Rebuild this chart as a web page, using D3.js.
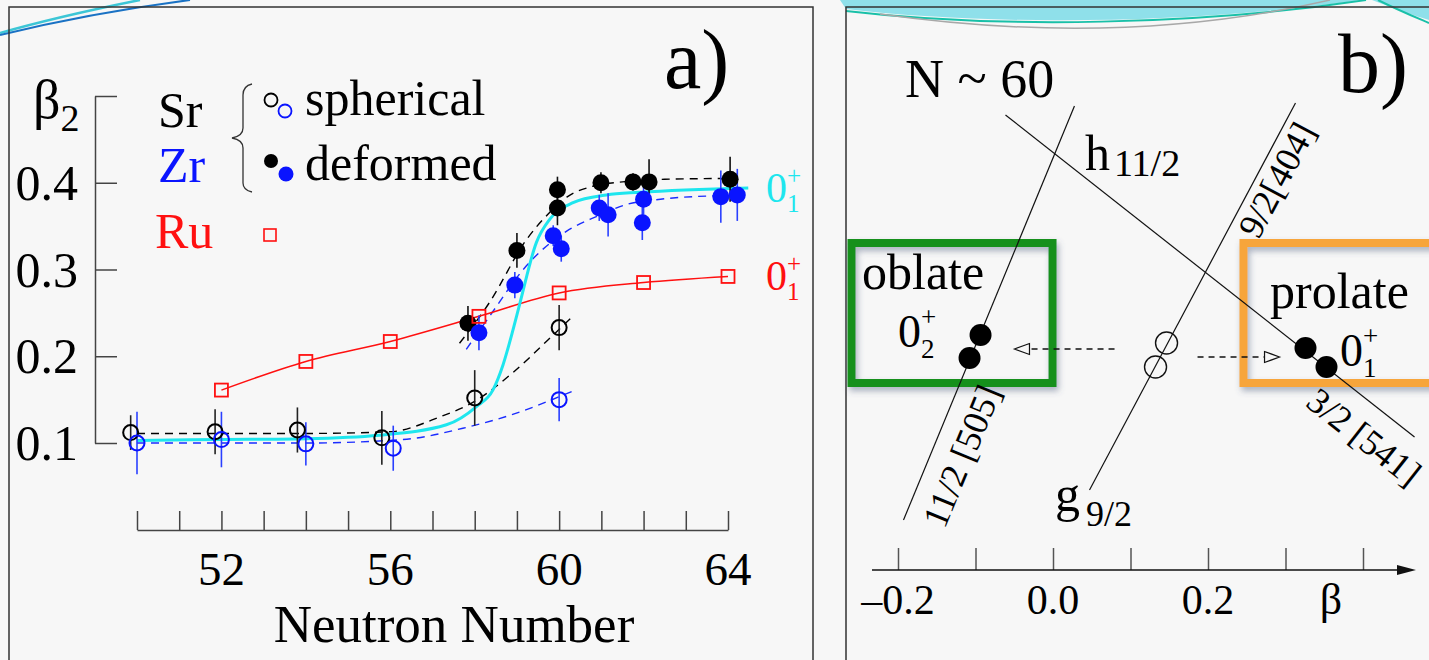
<!DOCTYPE html>
<html><head><meta charset="utf-8">
<script src="https://cdn.jsdelivr.net/npm/d3@7"></script>
<style>body{margin:0;background:#f7f7f7}svg{display:block}</style>
</head><body>
<svg id="c" width="1429" height="660"></svg>
<script>
// ---------------- DATA (panel a) ----------------
const xTicksA = [50,51,52,53,54,55,56,57,58,59,60,61,62,63,64];
const xLabelsA = [52,56,60,64];
const yTicksA = [0.1,0.2,0.3,0.4,0.5];
const yLabelsA = [0.1,0.2,0.3,0.4];
// [N, beta2, error]
const srSpherical = [[49.85,0.112,0.020],[51.85,0.113,0.026],[53.8,0.115,0.026],[55.8,0.106,0.031],[58.0,0.152,0.032],[60.0,0.233,0.026]];
const zrSpherical = [[50.0,0.100,0.036],[52.0,0.104,0.032],[54.0,0.099,0.025],[56.07,0.094,0.026],[60.0,0.150,0.025]];
const srDeformed = [[57.84,0.238,0.020],[59.0,0.322,0.020],[59.96,0.392,0.015],[59.96,0.371,0.020],[60.99,0.400,0.012],[61.75,0.401,0.010],[62.13,0.401,0.026],[64.05,0.404,0.026]];
const zrDeformed = [[58.1,0.227,0.020],[58.95,0.282,0.015],[59.86,0.339,0.012],[60.05,0.324,0.015],[60.95,0.371,0.015],[61.16,0.363,0.025],[61.97,0.354,0.020],[62.0,0.381,0.018],[63.83,0.384,0.030],[64.22,0.386,0.030]];
const ruValues = [[52,0.161],[54,0.194],[56,0.217],[58.1,0.246],[60,0.273],[62,0.285],[64,0.292]];
// guide curves
const fitGround = [[50,0.103],[52,0.104],[54,0.105],[55.74,0.109],[57.33,0.121],[58.04,0.142],[58.43,0.161],[58.67,0.190],[58.91,0.231],[59.07,0.261],[59.46,0.331],[59.78,0.358],[60.33,0.377],[61.12,0.386],[61.91,0.389],[64.48,0.394]];
const srSphCurve = [[50,0.111],[52,0.111],[54,0.111],[56,0.113],[57.17,0.130],[58,0.148],[58.9,0.181],[59.74,0.219],[60.3,0.245]];
const zrSphCurve = [[50,0.100],[54,0.100],[56.3,0.104],[57.72,0.117],[58.9,0.133],[60.33,0.160]];
const srDefCurve = [[57.64,0.215],[58.35,0.262],[59.22,0.334],[59.78,0.366],[60.2,0.384],[60.8,0.396],[61.5,0.401],[62.5,0.404],[64.05,0.405]];
const zrDefCurve = [[57.8,0.208],[58.35,0.246],[59.22,0.304],[60.17,0.344],[60.88,0.361],[61.6,0.375],[62.4,0.381],[63.7,0.385]];

// ---------------- DATA (panel b) ----------------
const betaTicks = [-0.2,-0.1,0,0.1,0.2,0.3,0.4];
const betaLabels = [[-0.2,"\u20130.2"],[0,"0.0"],[0.2,"0.2"]];
// orbitals: [beta0, E0, beta1, E1]
const orbitals = [
  [-0.1929, 8.0, 0.0277, 90.8],   // 11/2[505] (h11/2 oblate)
  [-0.0613, 89.0, 0.4665, 24.6],  // 3/2[541]
  [0.0471, 14.0, 0.3129, 91.4]    // 9/2[404] (g9/2)
];
const oblateDots = [[-0.0935,45.0],[-0.1077,40.4]];
const sphericalDots = [[0.1465,43.4],[0.1323,38.6]];
const prolateDots = [[0.3258,42.4],[0.3529,38.6]];
const arrowLeft = [0.0794,-0.0497,42.2];
const arrowRight = [0.1865,0.2923,40.6];
const oblateBox = [-0.26,63.4,-0.0006,35.4];
const prolateBox = [0.2458,63.4,0.5052,35.4];

// ---------------- DRAW ----------------
const svg = d3.select('#c');
const FONT = "'Liberation Serif','DejaVu Serif',serif";
const defs = svg.append('defs');
const f = defs.append('filter').attr('id','sh').attr('x','-20%').attr('y','-20%').attr('width','140%').attr('height','140%');
f.append('feDropShadow').attr('dx',2).attr('dy',4).attr('stdDeviation',3).attr('flood-color','#4a5a7a').attr('flood-opacity',0.45);

svg.append('rect').attr('width',1429).attr('height',660).attr('fill','#f7f7f7');

function T(x,y,s,size,opt={}){
  const t = svg.append('text').attr('x',x).attr('y',y).text(s)
    .attr('font-family',FONT).attr('font-size',size)
    .attr('fill',opt.fill||'#000').attr('text-anchor',opt.anchor||'start');
  if(opt.rot!==undefined){ t.attr('x',0).attr('y',0).attr('dominant-baseline','central').attr('transform',`translate(${x},${y}) rotate(${opt.rot})`);}
  return t;
}
// base with stacked superscript / subscript in one text element
function SS(x,y,base,sub,sup,size,small,supDy,subDy,fill){
  const t = svg.append('text').attr('x',x).attr('y',y)
    .attr('font-family',FONT).attr('font-size',size).attr('fill',fill||'#000');
  t.append('tspan').text(base);
  t.append('tspan').attr('font-size',small).attr('dy',supDy).text(sup);
  t.append('tspan').attr('font-size',small).attr('dx',-0.564*small).attr('dy',subDy-supDy).text(sub);
  return t;
}
// base with subscript (one text element)
function SB(x,y,base,sub,size,small,dx,dy){
  const t = svg.append('text').attr('x',x).attr('y',y)
    .attr('font-family',FONT).attr('font-size',size).attr('fill','#000');
  t.append('tspan').text(base);
  t.append('tspan').attr('font-size',small).attr('dx',dx).attr('dy',dy).text(sub);
  return t;
}

// decorations
svg.append('path').attr('d','M840,0 L846,9 C1000,27 1200,23 1362,0 Z').attr('fill','#8fe0ea');
svg.append('path').attr('d','M846,11 C1000,29 1200,25 1366,0').attr('fill','none').attr('stroke','#19c0a8').attr('stroke-width',2);
svg.append('path').attr('d','M880,14 C1050,38 1200,30 1330,0').attr('fill','none').attr('stroke','#a8a8a8').attr('stroke-width',1.5);
svg.append('path').attr('d','M1372,0 C1395,9 1415,16 1429,20 L1429,0 Z').attr('fill','#8fe0ea');
svg.append('path').attr('d','M1378,0 C1398,10 1415,17 1429,23').attr('fill','none').attr('stroke','#19c0a8').attr('stroke-width',2);
svg.append('path').attr('d','M0,33 Q60,16 140,0').attr('fill','none').attr('stroke','#3cc6d6').attr('stroke-width',2.5);
svg.append('path').attr('d','M0,35 Q90,13 190,0').attr('fill','none').attr('stroke','#1a72c4').attr('stroke-width',2);

// frames
svg.append('rect').attr('x',9).attr('y',7).attr('width',804).attr('height',700).attr('fill','none').attr('stroke','#333').attr('stroke-width',1.5);
svg.append('rect').attr('x',846).attr('y',7).attr('width',640).attr('height',700).attr('fill','none').attr('stroke','#333').attr('stroke-width',1.5);

// ===== Panel a =====
const xA = d3.scaleLinear().domain([50,64]).range([137,728]);
const yA = d3.scaleLinear().domain([0.1,0.5]).range([443,96]);

const gx = svg.append('g').attr('transform','translate(0,530)')
  .call(d3.axisTop(xA).tickValues(xTicksA).tickSizeInner(19).tickSizeOuter(0).tickFormat(''));
gx.selectAll('path,line').attr('stroke','#444').attr('stroke-width',1.5);
xLabelsA.forEach(v=>T(xA(v),585,String(v),47,{anchor:'middle'}));
T(454,642,'Neutron Number',53,{anchor:'middle'});

const gy = svg.append('g').attr('transform','translate(95,0)')
  .call(d3.axisRight(yA).tickValues(yTicksA).tickSizeInner(22).tickSizeOuter(0).tickFormat(''));
gy.selectAll('path,line').attr('stroke','#444').attr('stroke-width',1.5);
yLabelsA.forEach(v=>T(78,yA(v)+17,v.toFixed(1),50,{anchor:'end'}));
SB(33,118,'\u03b2','2',54,38,0,13);

T(664,88,'a)',84);

// curves
const line = d3.line().x(d=>xA(d[0])).y(d=>yA(d[1])).curve(d3.curveMonotoneX);
function curve(data,color,width,dash){
  svg.append('path').attr('d',line(data)).attr('fill','none').attr('stroke',color)
    .attr('stroke-width',width).attr('stroke-dasharray',dash||null);
}
curve(srSphCurve,'#000',1.4,'8,6');
curve(zrSphCurve,'#1a2cff',1.4,'8,6');
curve(srDefCurve,'#000',1.4,'8,6');
curve(zrDefCurve,'#1a2cff',1.4,'8,6');
curve(ruValues,'#ff1010',1.5);
curve(fitGround,'#1ee6ee',3);

// error bars
function errs(data,color){
  svg.append('g').selectAll('line').data(data).join('line')
    .attr('x1',d=>xA(d[0])).attr('x2',d=>xA(d[0]))
    .attr('y1',d=>yA(d[1]-d[2])).attr('y2',d=>yA(d[1]+d[2]))
    .attr('stroke',color).attr('stroke-width',1.6);
}
errs(srSpherical,'#222'); errs(zrSpherical,'#2a40ff'); errs(srDeformed,'#111'); errs(zrDeformed,'#2a40ff');

// markers
function circles(data,color,filled,r){
  svg.append('g').selectAll('circle').data(data).join('circle')
    .attr('cx',d=>xA(d[0])).attr('cy',d=>yA(d[1])).attr('r',r)
    .attr('fill',filled?color:'none').attr('stroke',color).attr('stroke-width',filled?0:2);
}
circles(srSpherical,'#000',false,7.5);
circles(zrSpherical,'#0a14ff',false,7.5);
circles(srDeformed,'#000',true,8.5);
circles(zrDeformed,'#0a14ff',true,8.5);
svg.append('g').selectAll('rect').data(ruValues).join('rect')
  .attr('x',d=>xA(d[0])-6.5).attr('y',d=>yA(d[1])-6.5).attr('width',13).attr('height',13)
  .attr('fill','none').attr('stroke','#ff1010').attr('stroke-width',1.8);

// curve labels
SS(766,202,'0','1','+',42,25,-18,10,'#1ee6ee');
SS(766,290,'0','1','+',42,25,-18,10,'#ff1010');

// legend
T(158,127,'Sr',50); T(158,182,'Zr',50,{fill:'#0a14ff'}); T(155,248,'Ru',50,{fill:'#ff1010'});
svg.append('path').attr('d','M252,84 Q243,86 243,95 L243,128 Q243,136 232,138 Q243,140 243,148 L243,183 Q243,190 252,192')
  .attr('fill','none').attr('stroke','#333').attr('stroke-width',1.3);
svg.append('circle').attr('cx',271).attr('cy',100).attr('r',6.5).attr('fill','none').attr('stroke','#000').attr('stroke-width',1.8);
svg.append('circle').attr('cx',285).attr('cy',111).attr('r',6.5).attr('fill','none').attr('stroke','#0a14ff').attr('stroke-width',1.8);
svg.append('circle').attr('cx',271).attr('cy',161).attr('r',7).attr('fill','#000');
svg.append('circle').attr('cx',286).attr('cy',174).attr('r',7.5).attr('fill','#0a14ff');
svg.append('rect').attr('x',264).attr('y',229).attr('width',12).attr('height',12).attr('fill','none').attr('stroke','#ff1010').attr('stroke-width',1.6);
T(305,115,'spherical',50); T(305,180,'deformed',50);

// ===== Panel b =====
const bx = d3.scaleLinear().domain([-0.2,0.4]).range([898,1363]);
const by = d3.scaleLinear().domain([0,100]).range([560,60]);
const axisY = 570;
const gb = svg.append('g').attr('transform',`translate(0,${axisY})`)
  .call(d3.axisTop(bx).tickValues(betaTicks).tickSizeInner(22).tickSizeOuter(0).tickFormat(''));
gb.select('path').remove();
gb.selectAll('line').attr('stroke','#555').attr('stroke-width',1.5);
svg.append('line').attr('x1',872).attr('x2',1400).attr('y1',axisY).attr('y2',axisY).attr('stroke','#111').attr('stroke-width',1.5);
svg.append('path').attr('d',`M1397,${axisY-5} L1416,${axisY} L1397,${axisY+5} Z`).attr('fill','#111');
betaLabels.forEach(d=>T(bx(d[0]),614,d[1],42,{anchor:'middle'}));
T(1331,614,'\u03b2',44,{anchor:'middle'});

T(905,97,'N ~ 60',54);
T(1338,92,'b)',84);

// boxes
function box(b,color){
  svg.append('rect').attr('x',bx(b[0])).attr('y',by(b[1])).attr('width',bx(b[2])-bx(b[0])).attr('height',by(b[3])-by(b[1]))
    .attr('fill','none').attr('stroke',color).attr('stroke-width',8).attr('filter','url(#sh)');
}
box(oblateBox,'#13901c');
box(prolateBox,'#f7a53a');

// orbital lines
svg.append('g').selectAll('line').data(orbitals).join('line')
  .attr('x1',d=>bx(d[0])).attr('y1',d=>by(d[1])).attr('x2',d=>bx(d[2])).attr('y2',d=>by(d[3]))
  .attr('stroke','#111').attr('stroke-width',1.2);

// arrows
function arrow(a){
  const x0=bx(a[0]), x1=bx(a[1]), y=by(a[2]);
  const dir = Math.sign(x1-x0);
  svg.append('line').attr('x1',x0).attr('x2',x1-dir*15).attr('y1',y).attr('y2',y)
    .attr('stroke','#111').attr('stroke-width',1.3).attr('stroke-dasharray','6,5');
  svg.append('path').attr('d',`M${x1},${y} L${x1-dir*15},${y-5.5} L${x1-dir*15},${y+5.5} Z`)
    .attr('fill','#f7f7f7').attr('stroke','#111').attr('stroke-width',1.2);
}
arrow(arrowLeft); arrow(arrowRight);

// dots
svg.append('g').selectAll('circle').data(oblateDots.concat(prolateDots)).join('circle')
  .attr('cx',d=>bx(d[0])).attr('cy',d=>by(d[1])).attr('r',11).attr('fill','#000');
svg.append('g').selectAll('circle').data(sphericalDots).join('circle')
  .attr('cx',d=>bx(d[0])).attr('cy',d=>by(d[1])).attr('r',11).attr('fill','none').attr('stroke','#111').attr('stroke-width',1.4);

// texts panel b
T(862,289,'oblate',50);
SS(898,347,'0','2','+',46,27,-21,11);
T(1270,308,'prolate',50);
SS(1340,366,'0','1','+',46,27,-21,11);
SB(1085,170,'h','11/2',50,38,4,6);
SB(1055,511,'g','9/2',50,36,6,15);
T(1277,180,'9/2[404]',36,{rot:-62,anchor:'middle'});
T(962,456,'11/2 [505]',36,{rot:-67.6,anchor:'middle'});
T(1364,437,'3/2 [541]',36,{rot:38.2,anchor:'middle'});
</script>
</body></html>
